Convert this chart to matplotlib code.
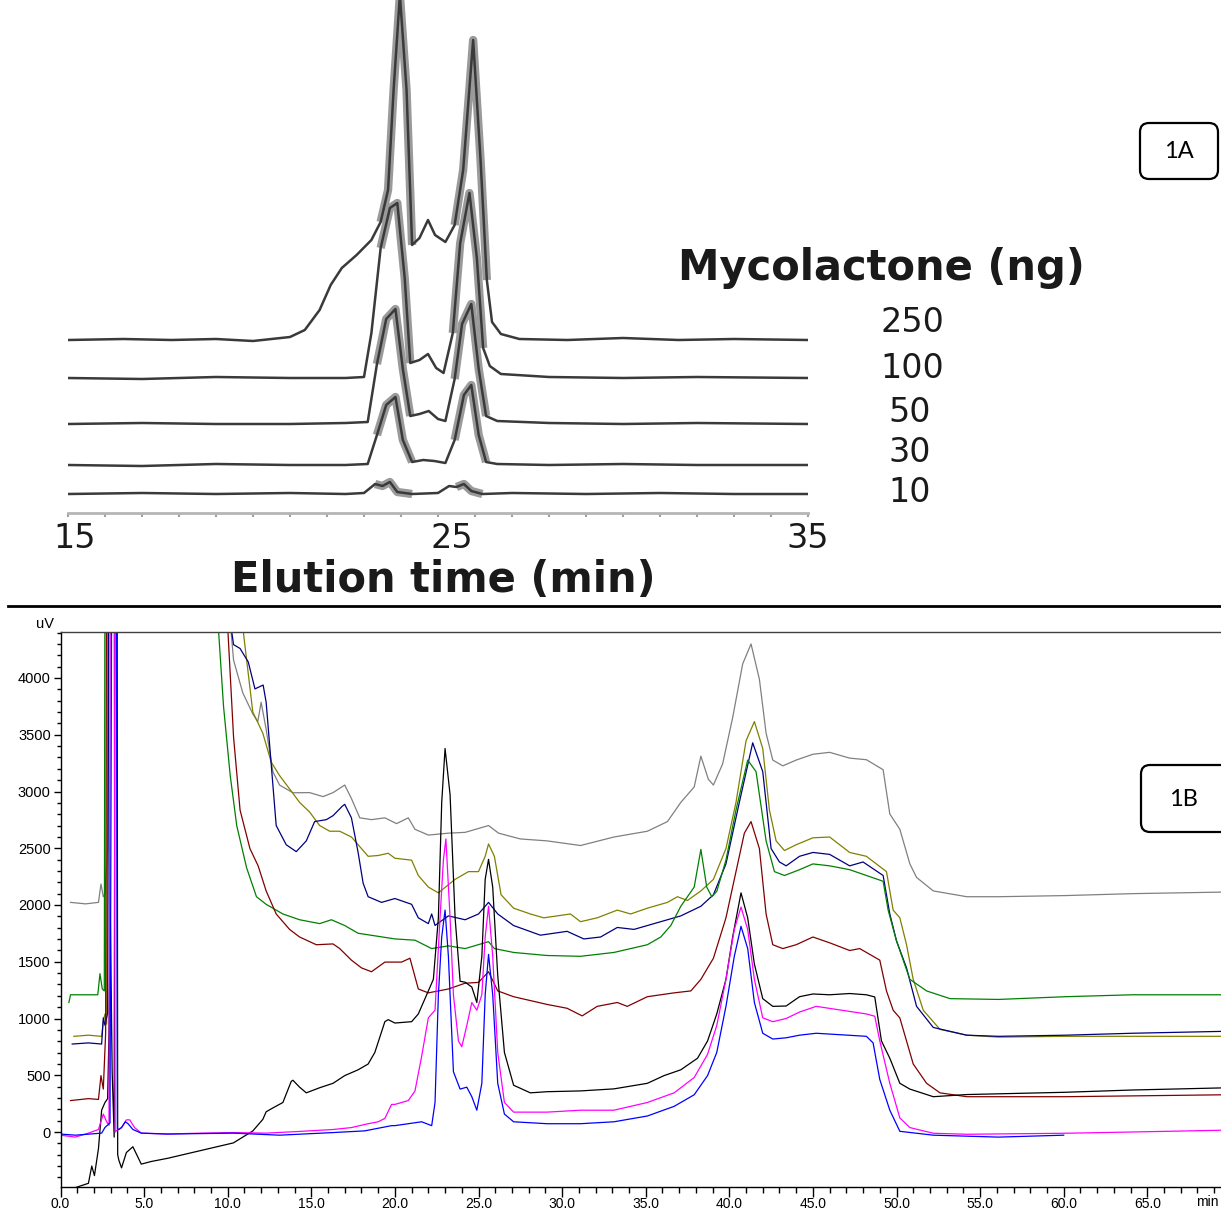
import matplotlib
matplotlib.use("Agg")
import matplotlib.pyplot as plt
import matplotlib.ticker as mt
from matplotlib.patches import FancyBboxPatch
import numpy as np

W, H = 1221, 1212

# ---------------- Panel 1A data (elution time in min, peak height in px units) -------------
a_labels = ["250", "100", "50", "30", "10"]
a250_t = [15.0, 16.5, 17.8, 19.0, 20.0, 21.0, 21.4, 21.8, 22.1, 22.4, 22.8, 23.2, 23.45, 23.65,
          23.8, 23.97, 24.15, 24.3, 24.5, 24.73, 24.92, 25.2, 25.45, 25.68, 25.95, 26.15, 26.32,
          26.46, 26.7, 27.2, 28.5, 30.0, 31.5, 33.0, 35.0]
a250_h = [0, 1, 0, 1, -1, 3, 10, 30, 55, 72, 85, 100, 118, 150, 250, 345, 250, 95, 102, 120,
          105, 98, 115, 170, 300, 180, 60, 18, 6, 1, 0, 2, 0, 1, 0]
a100_t = [15.0, 17.0, 19.0, 21.0, 22.5, 23.0, 23.2, 23.45, 23.7, 23.9, 24.1, 24.25, 24.5, 24.73,
          24.95, 25.15, 25.4, 25.6, 25.85, 26.05, 26.22, 26.4, 26.7, 28.0, 30.0, 32.0, 35.0]
a100_h = [0, -1, 1, 0, 0, 1, 45, 130, 170, 175, 100, 15, 18, 24, 10, 5, 45, 135, 185, 120, 30,
          12, 4, 1, 0, 1, 0]
a50_t = [15.0, 17.0, 19.0, 21.0, 22.5, 23.1, 23.35, 23.6, 23.85, 24.05, 24.25, 24.5, 24.75,
         25.0, 25.2, 25.45, 25.65, 25.9, 26.1, 26.3, 26.6, 28.0, 30.0, 32.0, 35.0]
a50_h = [0, 1, 0, 0, 1, 2, 60, 105, 115, 55, 8, 10, 13, 5, 3, 45, 100, 120, 55, 8, 3, 1, 0, 1, 0]
a30_t = [15.0, 17.0, 19.0, 21.0, 22.5, 23.1, 23.35, 23.6, 23.85, 24.05, 24.3, 24.6, 24.9,
         25.2, 25.45, 25.7, 25.9, 26.1, 26.3, 26.6, 28.0, 30.0, 32.0, 35.0]
a30_h = [0, -1, 1, 0, 0, 1, 30, 60, 68, 25, 3, 5, 4, 2, 25, 70, 80, 30, 3, 1, 0, 1, 0, 0]
a10_t = [15.0, 17.0, 19.0, 21.0, 22.5, 23.0, 23.3, 23.5, 23.7, 23.9, 24.3, 25.0, 25.3, 25.5,
         25.7, 25.9, 26.2, 27.0, 29.0, 31.0, 33.0, 35.0]
a10_h = [0, 1, 0, 1, 0, 1, 10, 8, 12, 2, 0, 1, 8, 7, 10, 3, 0, 1, 0, 1, 0, 0]
a_traces = [(a250_t, a250_h), (a100_t, a100_h), (a50_t, a50_h), (a30_t, a30_h), (a10_t, a10_h)]
a_offsets = [173, 135, 89, 48, 19]

# ---------------- Panel 1B data (time in min, signal in uV; 9000 = off scale) -------------
gray_t = [0.6, 1.5, 2.27, 2.42, 2.56, 2.66, 2.82, 2.9, 5.0, 9.0, 10.15, 10.35, 10.9, 11.5,
          11.8, 12.0, 12.3, 12.7, 13.1, 13.9, 14.9, 15.7, 16.3, 17.0, 17.4, 17.9, 18.6, 19.4,
          20.1, 20.8, 21.2, 22.0, 23.2, 24.2, 25.6, 26.2, 27.5, 29.1, 31.1, 33.1, 35.1, 36.3,
          37.1, 37.9, 38.3, 38.75, 39.05, 39.6, 40.2, 40.8, 41.3, 41.8, 42.2, 42.6, 43.2, 44.0,
          45.0, 46.0, 47.2, 48.2, 49.2, 49.6, 50.2, 50.8, 51.2, 52.2, 54.2, 56.1, 60.1, 64.1,
          69.6]
gray_v = [2023, 2010, 2023, 2185, 2073, 2100, 2500, 9000, 9000, 9000, 4500, 4158, 3870, 3684,
          3616, 3786, 3548, 3175, 3057, 2989, 2990, 2955, 2990, 3057, 2938, 2768, 2752, 2768,
          2717, 2768, 2667, 2616, 2633, 2640, 2700, 2633, 2582, 2565, 2524, 2599, 2650, 2735,
          2904, 3040, 3311, 3107, 3057, 3243, 3650, 4124, 4300, 3989, 3514, 3277, 3226, 3277,
          3328, 3345, 3294, 3280, 3192, 2802, 2667, 2362, 2243, 2124, 2073, 2073, 2083, 2100,
          2114]

olive_t = [0.8, 1.67, 2.46, 2.56, 2.66, 2.76, 2.86, 5.0, 9.0, 10.9, 11.5, 12.1, 12.6, 13.1,
           13.7, 14.3, 14.9, 15.5, 16.1, 16.7, 17.4, 18.0, 18.4, 19.0, 19.6, 20.0, 21.0, 21.4,
           22.0, 22.6, 23.6, 24.4, 25.0, 25.4, 25.6, 25.95, 26.35, 27.1, 28.1, 28.9, 30.5, 31.1,
           32.1, 33.3, 34.1, 35.1, 36.3, 36.9, 37.5, 38.3, 39.05, 39.8, 40.4, 41.0, 41.5, 42.0,
           42.4, 42.8, 43.3, 44.0, 45.0, 46.0, 47.2, 48.2, 49.4, 49.8, 50.2, 50.6, 51.0, 51.6,
           52.6, 54.2, 56.1, 60.1, 69.6]
olive_v = [843, 853, 843, 972, 1040, 950, 9000, 9000, 9000, 4450, 3701, 3514, 3260, 3141,
           3023, 2904, 2819, 2700, 2650, 2650, 2599, 2497, 2429, 2436, 2456, 2412, 2395, 2260,
           2158, 2107, 2226, 2294, 2294, 2429, 2538, 2429, 2090, 1972, 1921, 1887, 1921, 1853,
           1887, 1955, 1921, 1972, 2023, 2073, 2040, 2124, 2226, 2497, 2904, 3446, 3616, 3379,
           2836, 2565, 2480, 2531, 2592, 2599, 2463, 2429, 2294, 1955, 1887, 1650, 1345, 1073,
           904, 853, 836, 843, 843]

navy_t = [0.7, 1.67, 2.46, 2.56, 2.66, 2.82, 2.96, 5.0, 9.0, 10.15, 10.35, 10.74, 11.23,
          11.63, 12.12, 12.3, 12.6, 12.9, 13.5, 14.1, 14.7, 15.2, 15.9, 16.3, 16.85, 17.0, 17.4,
          17.8, 18.1, 18.4, 19.2, 20.0, 21.0, 21.4, 22.0, 22.2, 22.4, 23.2, 24.2, 25.0, 25.6,
          26.15, 27.1, 28.7, 30.3, 31.3, 32.3, 33.3, 34.3, 35.5, 37.1, 38.3, 39.05, 39.8, 40.6,
          41.4, 42.0, 42.5, 43.0, 43.4, 44.2, 45.0, 46.0, 47.2, 48.0, 49.2, 49.6, 50.0, 50.6,
          51.2, 52.2, 54.2, 56.1, 60.1, 64.1, 69.6]
navy_v = [775, 785, 775, 1006, 940, 1050, 9000, 9000, 9000, 4500, 4294, 4260, 4141, 3904,
          3938, 3786, 3243, 2700, 2531, 2470, 2565, 2735, 2752, 2787, 2870, 2887, 2768, 2463,
          2192, 2073, 2023, 2057, 2006, 1887, 1836, 1921, 1820, 1904, 1870, 1921, 2023, 1921,
          1819, 1734, 1768, 1701, 1718, 1802, 1785, 1836, 1904, 1989, 2090, 2362, 2904, 3429,
          3175, 2497, 2379, 2345, 2429, 2463, 2446, 2345, 2379, 2260, 1921, 1684, 1446, 1107,
          921, 853, 843, 853, 870, 887]

green_t = [0.5, 0.6, 1.5, 2.23, 2.36, 2.5, 2.62, 2.7, 5.0, 9.0, 9.46, 9.75, 10.15, 10.54,
           11.13, 11.72, 12.3, 13.3, 14.3, 15.5, 16.2, 17.0, 17.8, 19.0, 20.0, 21.2, 22.2, 23.2,
           24.2, 25.6, 25.95, 27.1, 29.1, 31.1, 33.1, 35.1, 35.9, 36.5, 37.1, 37.9, 38.3, 38.65,
           38.95, 39.25, 39.8, 40.4, 41.1, 41.6, 42.2, 42.7, 43.3, 44.2, 45.0, 46.0, 47.2, 49.2,
           49.5, 50.0, 50.8, 51.8, 53.2, 56.1, 60.1, 64.1, 69.6]
green_v = [1141, 1209, 1209, 1209, 1395, 1260, 1243, 9000, 9000, 9000, 4400, 3751, 3141,
           2700, 2328, 2073, 2006, 1921, 1870, 1836, 1870, 1819, 1751, 1724, 1701, 1690, 1616,
           1640, 1616, 1677, 1616, 1582, 1555, 1548, 1582, 1650, 1718, 1819, 1989, 2158, 2490,
           2158, 2073, 2120, 2396, 2836, 3277, 3175, 2565, 2294, 2260, 2311, 2362, 2345, 2311,
           2209, 1955, 1684, 1345, 1243, 1175, 1168, 1192, 1209, 1209]

maroon_t = [0.6, 1.67, 2.27, 2.42, 2.56, 2.7, 2.8, 5.0, 9.0, 10.0, 10.35, 10.74, 11.33,
            11.82, 12.3, 12.9, 13.7, 14.3, 15.3, 16.3, 16.7, 17.4, 18.0, 18.6, 19.4, 20.0, 20.4,
            20.9, 21.4, 22.0, 23.2, 24.2, 25.0, 25.6, 26.15, 27.1, 29.1, 30.3, 31.2, 32.1, 33.3,
            33.9, 35.1, 36.7, 37.7, 38.3, 39.05, 39.8, 40.4, 40.9, 41.3, 41.8, 42.2, 42.6, 43.2,
            44.0, 45.0, 46.0, 47.2, 47.8, 49.0, 49.4, 49.8, 50.2, 51.0, 51.8, 52.6, 54.2, 60.1,
            69.6]
maroon_v = [277, 294, 287, 497, 378, 870, 9000, 9000, 9000, 4450, 3480, 2836, 2497, 2345,
            2124, 1921, 1785, 1718, 1650, 1657, 1616, 1514, 1446, 1412, 1497, 1497, 1497, 1531,
            1260, 1226, 1260, 1311, 1318, 1412, 1243, 1192, 1124, 1090, 1023, 1107, 1141, 1107,
            1192, 1226, 1243, 1345, 1531, 1887, 2294, 2633, 2735, 2497, 1921, 1650, 1616, 1650,
            1718, 1667, 1599, 1616, 1514, 1243, 1073, 1005, 599, 429, 345, 311, 311, 328]

black_t = [0.0, 0.89, 1.67, 1.87, 2.03, 2.27, 2.46, 2.66, 2.82, 2.9, 2.98, 3.09, 3.21, 3.3,
           3.36, 3.42, 3.49, 3.65, 3.94, 4.33, 4.83, 5.42, 6.4, 8.37, 10.34, 11.5, 12.1, 12.3,
           12.7, 13.3, 13.8, 13.9, 14.3, 14.7, 15.5, 16.3, 17.0, 17.8, 18.4, 18.8, 19.4, 19.6,
           20.0, 21.0, 21.4, 21.8, 22.3, 22.6, 22.8, 23.0, 23.3, 23.6, 23.9, 24.2, 24.6, 24.9,
           25.2, 25.4, 25.6, 25.85, 26.15, 26.55, 27.1, 28.1, 29.1, 31.1, 33.1, 35.1, 36.1,
           37.1, 38.1, 38.7, 39.25, 39.8, 40.2, 40.7, 41.1, 41.5, 42.0, 42.6, 43.4, 44.2, 45.0,
           46.0, 47.2, 48.2, 48.7, 49.1, 49.6, 50.2, 50.8, 52.2, 54.2, 60.1, 64.1, 69.6]
black_v = [-503, -490, -452, -300, -384, -147, 192, 260, 294, 870, 1904, 531, -45, 9000, 9000,
           -200, -249, -316, -181, -130, -283, -260, -232, -164, -96, 9, 111, 178, 212, 260,
           446, 456, 395, 345, 390, 429, 497, 548, 599, 701, 972, 990, 960, 972, 1040, 1175,
           1345, 1887, 2904, 3379, 2972, 1887, 1328, 1320, 1277, 1141, 1548, 2226, 2402, 2158,
           1379, 701, 412, 345, 355, 362, 380, 429, 497, 548, 650, 802, 1040, 1345, 1718, 2107,
           1887, 1480, 1175, 1107, 1110, 1192, 1216, 1209, 1220, 1209, 1190, 802, 650, 429,
           378, 311, 330, 350, 370, 389]

magenta_t = [0.0, 0.89, 1.67, 2.27, 2.56, 2.76, 2.9, 3.05, 3.15, 3.27, 3.4, 3.65, 3.94, 4.14,
             4.43, 4.83, 6.4, 8.37, 10.34, 12.3, 14.3, 16.3, 17.4, 18.4, 19.0, 19.4, 19.8, 20.0,
             20.8, 21.2, 21.6, 22.0, 22.4, 22.7, 22.9, 23.05, 23.3, 23.5, 23.8, 24.0, 24.3,
             24.6, 24.9, 25.2, 25.4, 25.6, 25.85, 26.15, 26.55, 27.1, 29.1, 31.1, 33.1, 35.1,
             36.7, 37.9, 38.7, 39.25, 39.8, 40.3, 40.7, 41.1, 41.5, 42.0, 42.6, 43.4, 44.2,
             45.2, 48.2, 48.7, 49.0, 49.6, 50.2, 50.8, 52.2, 54.2, 60.1, 64.1, 69.6]
magenta_v = [-28, -45, -10, 22, 158, 90, 60, 9000, 9000, 0, 20, 39, 107, 107, 39, -10, -18,
             -10, -5, -10, 5, 22, 39, 73, 90, 120, 243, 243, 277, 361, 667, 1006, 1073, 1887,
             2395, 2582, 1887, 1209, 802, 751, 938, 1141, 1073, 1209, 1718, 1989, 1548, 701,
             260, 175, 175, 192, 192, 260, 345, 480, 684, 938, 1345, 1785, 1982, 1785, 1345,
             1006, 972, 1000, 1057, 1107, 1040, 1020, 802, 429, 124, 39, -11, -20, -11, 0, 16]

blue_t = [0.0, 0.89, 2.46, 2.66, 2.96, 3.15, 3.3, 3.4, 3.48, 3.65, 3.88, 4.04, 4.33, 4.83,
          6.4, 10.34, 13.1, 16.3, 18.2, 19.8, 20.0, 20.8, 21.6, 22.2, 22.4, 22.6, 22.8, 23.0,
          23.2, 23.5, 23.9, 24.3, 24.6, 24.9, 25.2, 25.4, 25.6, 25.85, 26.15, 26.55, 27.1, 29.1,
          31.1, 33.1, 35.1, 36.7, 37.9, 38.7, 39.25, 39.8, 40.3, 40.7, 41.1, 41.5, 42.0, 42.6,
          43.4, 44.2, 45.2, 48.2, 48.6, 49.0, 49.6, 50.2, 52.2, 56.1, 60.0]
blue_v = [-18, -28, -10, 40, 80, 9000, 9000, 30, 20, 39, 90, 73, 22, -10, -18, -10, -28, -5,
          10, 56, 56, 73, 90, 56, 260, 1209, 1718, 1955, 1548, 531, 378, 395, 311, 192, 429,
          1209, 1565, 1209, 429, 158, 90, 73, 73, 90, 141, 226, 328, 497, 701, 1107, 1548, 1812,
          1616, 1141, 870, 819, 830, 853, 870, 843, 785, 463, 192, 6, -28, -45, -28]

b_series = [
    (gray_t, gray_v, "#808080"),
    (olive_t, olive_v, "#808000"),
    (navy_t, navy_v, "#000080"),
    (green_t, green_v, "#008000"),
    (maroon_t, maroon_v, "#800000"),
    (black_t, black_v, "#000000"),
    (magenta_t, magenta_v, "#FF00FF"),
    (blue_t, blue_v, "#0000FF"),
]
b_yticks = [0, 500, 1000, 1500, 2000, 2500, 3000, 3500, 4000]

# ---------------- figure ----------------
fig = plt.figure(figsize=(W / 100, H / 100), dpi=100)


def px_axes(x0, y0, x1, y1):
    return fig.add_axes([x0 / W, 1 - y1 / H, (x1 - x0) / W, (y1 - y0) / H])


# ----- Panel 1A -----
axA = px_axes(68, 0, 808, 513)
axA.set_xlim(15, 35)
axA.set_ylim(0, 513)
for (tt, hh), off in zip(a_traces, a_offsets):
    tt = np.asarray(tt, float)
    yy = np.asarray(hh, float) + off
    m = ((tt >= 23.3) & (tt <= 24.3)) | ((tt >= 25.35) & (tt <= 26.35))
    axA.plot(tt, np.where(m, yy, np.nan), color="#9a9a9a", lw=6, solid_capstyle="butt")
    axA.plot(tt, yy, color="#3a3a3a", lw=1.8)
for s in ["top", "right", "left"]:
    axA.spines[s].set_visible(False)
axA.spines["bottom"].set_color("#b5b5b5")
axA.spines["bottom"].set_linewidth(2)
axA.set_yticks([])
axA.xaxis.set_major_locator(mt.MultipleLocator(1))
axA.tick_params(axis="x", length=3, width=1.5, color="#a0a0a0", labelbottom=False)
axA.patch.set_alpha(0)

# ----- Panel 1B -----
x_left, x_right = 60.5, 1225.0
y_top, y_bot = 632, 1187
axB = px_axes(x_left, y_top, x_right, y_bot)
px_per_min = 16.72
px_per_uv = 0.1135
axB.set_xlim(0, (x_right - x_left) / px_per_min)
axB.set_ylim((1132 - y_bot) / px_per_uv, (1132 - y_top) / px_per_uv)
for tt, vv, c in b_series:
    axB.plot(tt, vv, color=c, lw=0.9)
axB.xaxis.set_major_locator(mt.FixedLocator(np.arange(0, 66, 5)))
axB.xaxis.set_minor_locator(mt.MultipleLocator(1))
axB.xaxis.set_major_formatter(mt.FormatStrFormatter("%.1f"))
axB.yaxis.set_major_locator(mt.FixedLocator(b_yticks))
axB.yaxis.set_minor_locator(mt.MultipleLocator(100))
axB.tick_params(axis="x", which="major", direction="out", length=7, width=1, pad=0.5,
                labelsize=10)
axB.tick_params(axis="x", which="minor", direction="out", length=4, width=1)
axB.tick_params(axis="y", which="major", direction="out", length=5, width=1, pad=2,
                labelsize=10.5)
axB.tick_params(axis="y", which="minor", direction="out", length=3, width=1)
for lab in axB.get_xticklabels() + axB.get_yticklabels():
    lab.set_fontfamily("Liberation Sans")
axB.spines["top"].set_color("#404040")
axB.spines["right"].set_visible(False)
for s in ["left", "bottom", "top"]:
    axB.spines[s].set_linewidth(1)

# ----- overlay in pixel coordinates -----
ov = fig.add_axes([0, 0, 1, 1])
ov.set_xlim(0, W)
ov.set_ylim(H, 0)
ov.axis("off")
ov.patch.set_alpha(0)

ov.plot([8, W], [606, 606], color="black", lw=2)

wide = dict(family="DejaVu Sans", color="#1a1a1a")
ov.text(881, 268, "Mycolactone (ng)", ha="center", va="center", fontsize=30,
        fontweight="bold", **wide)
for lab, (xc, yc) in zip(a_labels, [(912, 322), (912, 368), (910, 413), (910, 453),
                                    (910, 492)]):
    ov.text(xc, yc, lab, ha="center", va="center", fontsize=24, **wide)
for lab, xc in zip(["15", "25", "35"], [75, 452, 808]):
    ov.text(xc, 538, lab, ha="center", va="center", fontsize=24, **wide)
ov.text(443, 580, "Elution time (min)", ha="center", va="center", fontsize=30,
        fontweight="bold", **wide)

ov.text(45, 624, "uV", ha="center", va="center", fontsize=10.5, family="Liberation Sans")
ov.text(1219, 1202, "min", ha="right", va="center", fontsize=10, family="Liberation Sans")

ov.add_patch(FancyBboxPatch((1140, 123), 78, 56, boxstyle="round,pad=0,rounding_size=9",
                            fc="white", ec="black", lw=1.6))
ov.text(1179, 152, "1A", ha="center", va="center", fontsize=17, family="Lato")
ov.add_patch(FancyBboxPatch((1141, 765), 95, 67, boxstyle="round,pad=0,rounding_size=9",
                            fc="white", ec="black", lw=1.6))
ov.text(1183, 799, "1B", ha="center", va="center", fontsize=17, family="Lato")

fig.savefig("out.png", dpi=100)
